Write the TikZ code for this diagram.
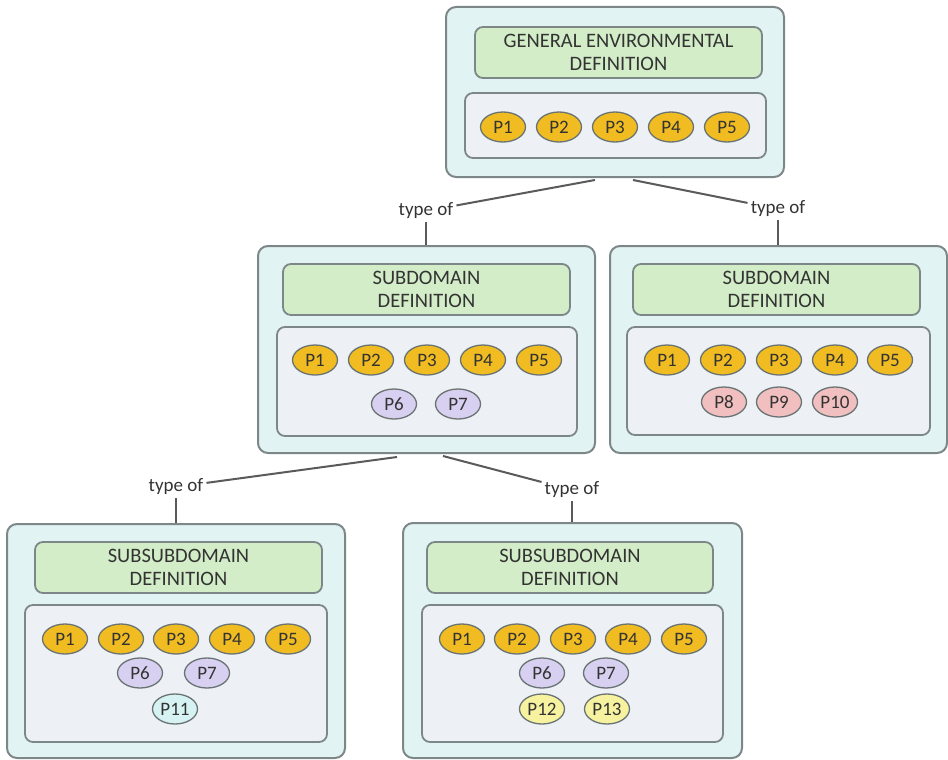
\documentclass[tikz,border=0pt]{standalone}
\usepackage{fontspec}
\setmainfont{Carlito}
\usetikzlibrary{shapes.geometric}
\definecolor{outerfill}{HTML}{E2F3F3}
\definecolor{boxline}{HTML}{7D8787}
\definecolor{greenfill}{HTML}{D3EDC8}
\definecolor{innerfill}{HTML}{EDF1F5}
\definecolor{goldfill}{HTML}{F0BC22}
\definecolor{purplefill}{HTML}{D8D0F0}
\definecolor{pinkfill}{HTML}{F1BFBF}
\definecolor{cyanfill}{HTML}{D6F2F2}
\definecolor{yellowfill}{HTML}{F7F2A0}
\definecolor{txt}{HTML}{333333}
\definecolor{linec}{HTML}{5A5A5A}
\tikzset{
  outerbox/.style={draw=boxline, fill=outerfill, line width=2pt, rounded corners=10pt, inner sep=0pt},
  titlebox/.style={draw=boxline, fill=greenfill, line width=1.8pt, rounded corners=8pt, inner sep=0pt, align=center, text=txt, font=\fontsize{20.5}{23}\selectfont},
  innerbox/.style={draw=boxline, fill=innerfill, line width=1.8pt, rounded corners=8pt, inner sep=0pt},
  pell/.style={ellipse, draw=boxline!85!black, line width=1.3pt, minimum width=45pt, minimum height=30pt, inner sep=0pt, text=txt, font=\fontsize{19}{22}\selectfont},
  gold/.style={pell, fill=goldfill},
  purple/.style={pell, fill=purplefill},
  pink/.style={pell, fill=pinkfill},
  cyanp/.style={pell, fill=cyanfill},
  yel/.style={pell, fill=yellowfill},
  typelbl/.style={text=txt, inner sep=3pt, font=\fontsize{19}{22}\selectfont},
  conn/.style={draw=linec, line width=2pt}
}
\begin{document}
\begin{tikzpicture}[x=1pt, y=-1pt]
\useasboundingbox (0,0) rectangle (948,760);

% ---------- top box
\node[outerbox, minimum width=338pt, minimum height=170pt] (top) at (615,92) {};
\node[titlebox, minimum width=287pt, minimum height=51pt] (topt) at (618.5,52.5) {GENERAL ENVIRONMENTAL\\DEFINITION};
\node[innerbox, minimum width=301pt, minimum height=65pt] (topi) at (615.5,125.5) {};
\foreach \i/\x in {1/503,2/559,3/615,4/671,5/727}
  \node[gold] (tp\i) at (\x,127) {P\i};

% ---------- middle left
\node[outerbox, minimum width=337pt, minimum height=207pt] (ml) at (426.5,349.5) {};
\node[titlebox, minimum width=287pt, minimum height=51pt] (mlt) at (426.5,289.5) {SUBDOMAIN\\DEFINITION};
\node[innerbox, minimum width=300pt, minimum height=109pt] (mli) at (427,381.5) {};
\foreach \i/\x in {1/315,2/371,3/427,4/483,5/539}
  \node[gold] (mlp\i) at (\x,360) {P\i};
\node[purple] (mlp6) at (394,404) {P6};
\node[purple] (mlp7) at (458,404) {P7};

% ---------- middle right
\node[outerbox, minimum width=337pt, minimum height=207pt] (mr) at (778.5,349.5) {};
\node[titlebox, minimum width=287pt, minimum height=51pt] (mrt) at (776.5,289.5) {SUBDOMAIN\\DEFINITION};
\node[innerbox, minimum width=303pt, minimum height=108pt] (mri) at (778.5,381) {};
\foreach \i/\x in {1/667,2/723,3/779,4/835,5/890}
  \node[gold] (mrp\i) at (\x,360) {P\i};
\node[pink] (mrp8) at (724,402) {P8};
\node[pink] (mrp9) at (779,402) {P9};
\node[pink] (mrp10) at (835,402) {P10};

% ---------- bottom left
\node[outerbox, minimum width=338pt, minimum height=234pt] (bl) at (176,641) {};
\node[titlebox, minimum width=287pt, minimum height=51pt] (blt) at (178.5,567.5) {SUBSUBDOMAIN\\DEFINITION};
\node[innerbox, minimum width=302pt, minimum height=137pt] (bli) at (176,673.5) {};
\foreach \i/\x in {1/65,2/121,3/176,4/232,5/288}
  \node[gold] (blp\i) at (\x,639) {P\i};
\node[purple] (blp6) at (140,673) {P6};
\node[purple] (blp7) at (207,673) {P7};
\node[cyanp] (blp11) at (175,709) {P11};

% ---------- bottom right
\node[outerbox, minimum width=339pt, minimum height=235pt] (br) at (572.5,640.5) {};
\node[titlebox, minimum width=286pt, minimum height=51pt] (brt) at (570,567.5) {SUBSUBDOMAIN\\DEFINITION};
\node[innerbox, minimum width=301pt, minimum height=137pt] (bri) at (572.5,673.5) {};
\foreach \i/\x in {1/462,2/517,3/573,4/628,5/684}
  \node[gold] (brp\i) at (\x,639) {P\i};
\node[purple] (brp6) at (542,673) {P6};
\node[purple] (brp7) at (606,673) {P7};
\node[yel] (brp12) at (542,709) {P12};
\node[yel] (brp13) at (607,709) {P13};

% ---------- connectors
\coordinate (c1) at (595,180);
\coordinate (c2) at (633,180);
\coordinate (c3) at (397,457);
\coordinate (c4) at (443,456);
\node[typelbl] (l1) at (426,211) {type of};
\node[typelbl] (l2) at (778,209) {type of};
\node[typelbl] (l3) at (176,487) {type of};
\node[typelbl] (l4) at (572,490) {type of};

\draw[conn] (c1) -- (l1);
\draw[conn] (l1) -- (l1 |- ml.north);
\draw[conn] (c2) -- (l2);
\draw[conn] (l2) -- (l2 |- mr.north);
\draw[conn] (c3) -- (l3);
\draw[conn] (l3) -- (l3 |- bl.north);
\draw[conn] (c4) -- (l4);
\draw[conn] (l4) -- (l4 |- br.north);
\end{tikzpicture}
\end{document}
